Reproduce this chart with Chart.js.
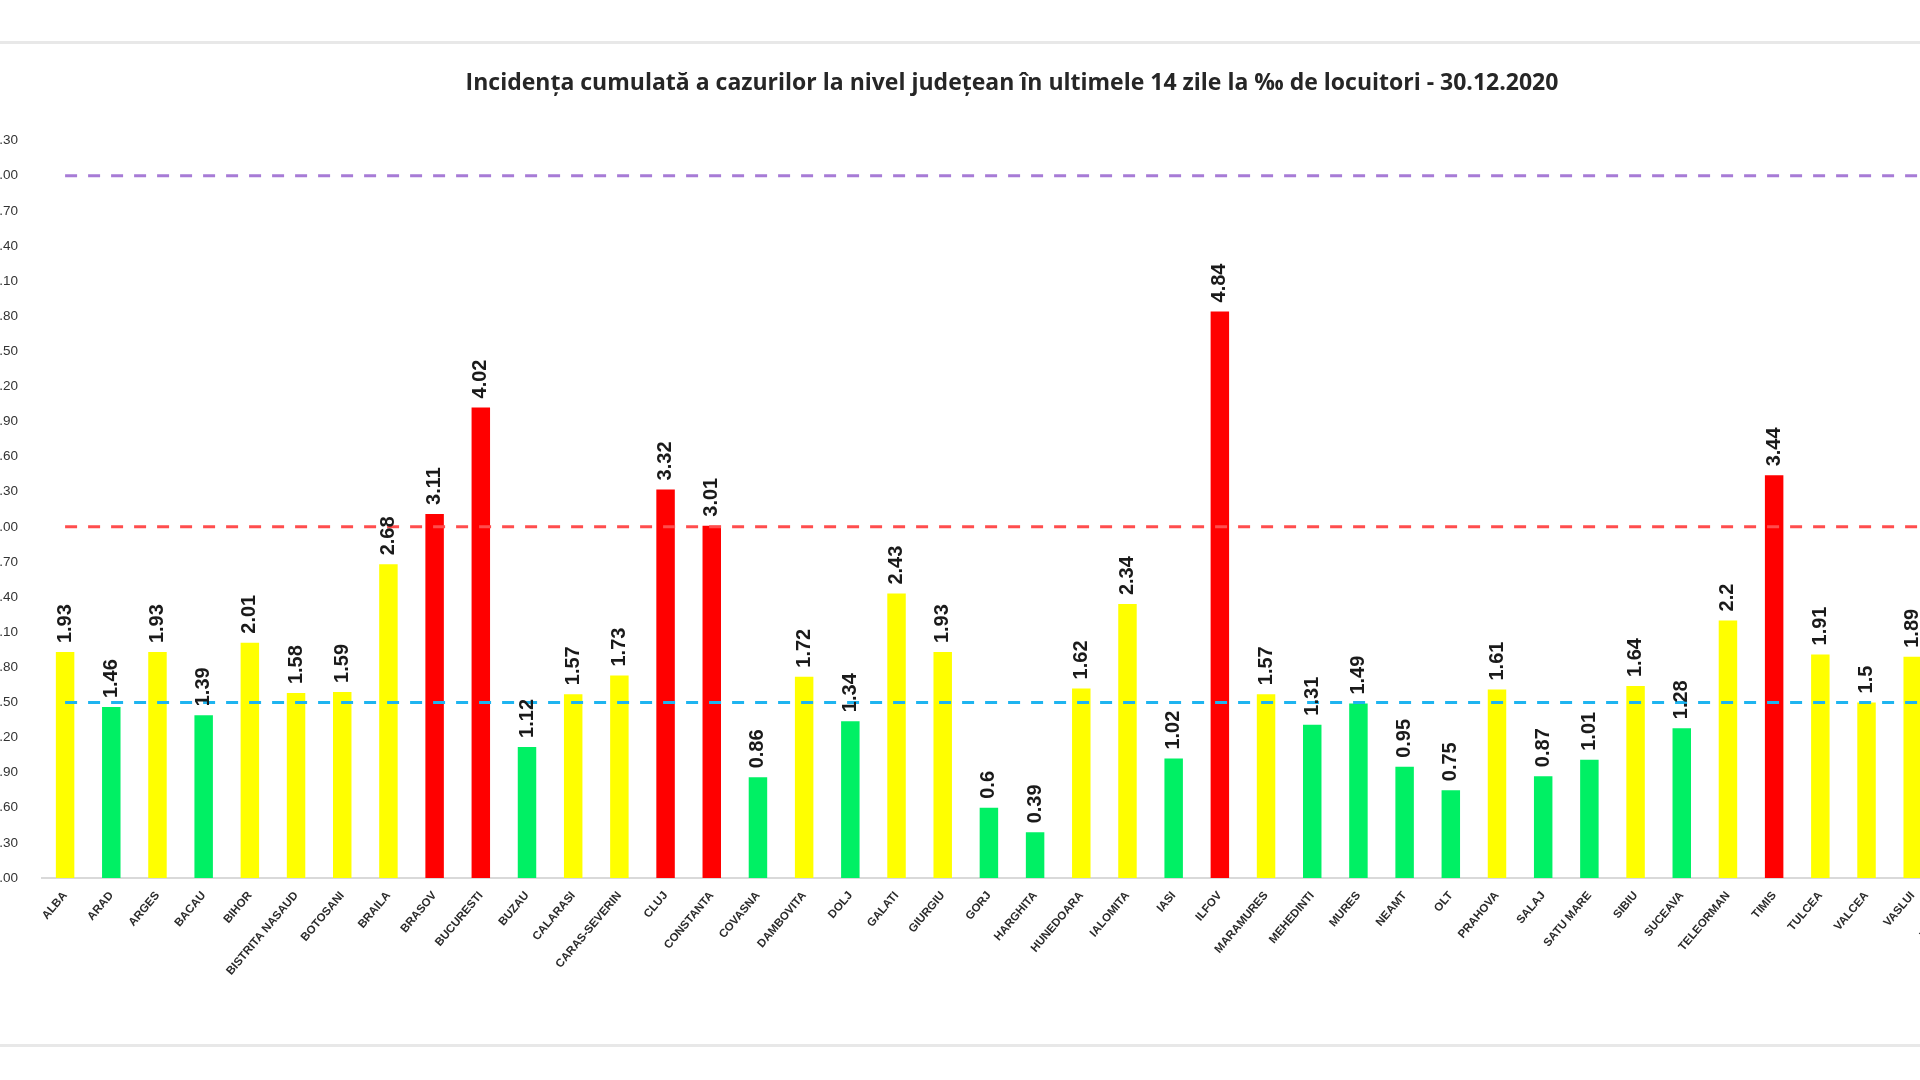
<!DOCTYPE html>
<html>
<head>
<meta charset="utf-8">
<title>Incidența cumulată - 30.12.2020</title>
<script src="https://cdn.jsdelivr.net/npm/chart.js@4.4.1/dist/chart.umd.min.js"></script>
<style>
  html, body { margin: 0; padding: 0; background: #fff; overflow: hidden; }
  body { width: 1920px; height: 1080px; position: relative; }
  .rule { position: absolute; left: 0; width: 1920px; height: 3px; background: #e8e8e8; }
  #wrap { position: absolute; left: -30px; top: 0; width: 2040px; height: 1080px; }
</style>
</head>
<body>
<div class="rule" style="top:41px"></div>
<div class="rule" style="top:1044px"></div>
<div id="wrap"><canvas id="incidenceChart"></canvas></div>
<script>
// Counties (as written on the axis) and cumulative 14-day incidence per 1000 inhabitants
const counties = [
  "ALBA", "ARAD", "ARGES", "BACAU", "BIHOR", "BISTRITA NASAUD", "BOTOSANI", "BRAILA",
  "BRASOV", "BUCURESTI", "BUZAU", "CALARASI", "CARAS-SEVERIN", "CLUJ", "CONSTANTA",
  "COVASNA", "DAMBOVITA", "DOLJ", "GALATI", "GIURGIU", "GORJ", "HARGHITA", "HUNEDOARA",
  "IALOMITA", "IASI", "ILFOV", "MARAMURES", "MEHEDINTI", "MURES", "NEAMT", "OLT",
  "PRAHOVA", "SALAJ", "SATU MARE", "SIBIU", "SUCEAVA", "TELEORMAN", "TIMIS", "TULCEA",
  "VALCEA", "VASLUI", "VRANCEA"
];
const incidence = [
  1.93, 1.46, 1.93, 1.39, 2.01, 1.58, 1.59, 2.68,
  3.11, 4.02, 1.12, 1.57, 1.73, 3.32, 3.01,
  0.86, 1.72, 1.34, 2.43, 1.93, 0.6, 0.39, 1.62,
  2.34, 1.02, 4.84, 1.57, 1.31, 1.49, 0.95, 0.75,
  1.61, 0.87, 1.01, 1.64, 1.28, 2.2, 3.44, 1.91,
  1.5, 1.89, null   // VRANCEA bar is outside the picture
];

// Reference levels (dashed lines)
const levelGreen = 1.5;
const levelRed = 3.0;
const levelTop = 6.0;

// Y axis ticks
const yMin = 0;
const yMax = 6.3;
const yStep = 0.3;

const GREEN = "#00f064";
const YELLOW = "#ffff00";
const RED = "#ff0000";

function barColor(v) {
  if (v === null) return YELLOW;
  if (v < levelGreen) return GREEN;
  if (v <= levelRed) return YELLOW;
  return RED;
}

// Rotated value labels above each bar
const valueLabels = {
  id: "valueLabels",
  afterDatasetsDraw(chart) {
    const meta = chart.getDatasetMeta(0);
    const ctx = chart.ctx;
    ctx.save();
    ctx.font = "bold 20px 'Liberation Sans'";
    ctx.fillStyle = "#1a1a1a";
    ctx.textAlign = "left";
    ctx.textBaseline = "middle";
    meta.data.forEach((bar, i) => {
      const v = incidence[i];
      if (v === null) return;
      ctx.save();
      ctx.translate(bar.x, bar.y - 9);
      ctx.rotate(-Math.PI / 2);
      ctx.fillText(String(v), 0, 0);
      ctx.restore();
    });
    ctx.restore();
  }
};

const dashLine = (value, color) => ({
  type: "line",
  data: counties.map(() => value),
  borderColor: color,
  borderWidth: 3,
  borderDash: [12, 11],
  pointRadius: 0,
  fill: false,
  order: 0
});

const ctx = document.getElementById("incidenceChart").getContext("2d");
const incidenceChart = new Chart(ctx, {
  type: "bar",
  data: {
    labels: counties,
    datasets: [
      {
        data: incidence,
        backgroundColor: incidence.map(barColor),
        barPercentage: 0.4,
        categoryPercentage: 1,
        order: 1
      },
      dashLine(levelTop, "#a77bd6"),
      dashLine(levelRed, "#ff4d4d"),
      dashLine(levelGreen, "#1eb4f0")
    ]
  },
  options: {
    responsive: true,
    maintainAspectRatio: false,
    animation: false,
    devicePixelRatio: 1,
    layout: {
      padding: { top: 0, right: 28, bottom: 52, left: 0 }
    },
    plugins: {
      legend: { display: false },
      tooltip: { enabled: false },
      title: {
        display: true,
        text: "Incidența cumulată a cazurilor la nivel județean în ultimele 14 zile la ‰ de locuitori - 30.12.2020",
        fullSize: false,
        color: "#262626",
        font: { family: "'Open Sans'", size: 23, weight: "bold" },
        padding: { top: 70, bottom: 43 }
      }
    },
    scales: {
      x: {
        grid: { display: false, drawTicks: false },
        border: { display: true, color: "#d9d9d9", width: 2 },
        ticks: {
          autoSkip: false,
          minRotation: 50,
          maxRotation: 50,
          padding: 11,
          color: "#2b2b2b",
          font: { family: "'Liberation Sans'", size: 11.5, weight: "bold" }
        },
        afterFit: (scale) => { scale.height = 150; }
      },
      y: {
        min: yMin,
        max: yMax,
        grid: { display: false, drawTicks: false },
        border: { display: false },
        ticks: {
          stepSize: yStep,
          padding: 24,
          color: "#333333",
          font: { family: "'Liberation Sans'", size: 13.5 },
          callback: (v) => Number(v).toFixed(2)
        },
        afterFit: (scale) => { scale.width = 72; }
      }
    }
  },
  plugins: [valueLabels]
});
</script>
</body>
</html>
